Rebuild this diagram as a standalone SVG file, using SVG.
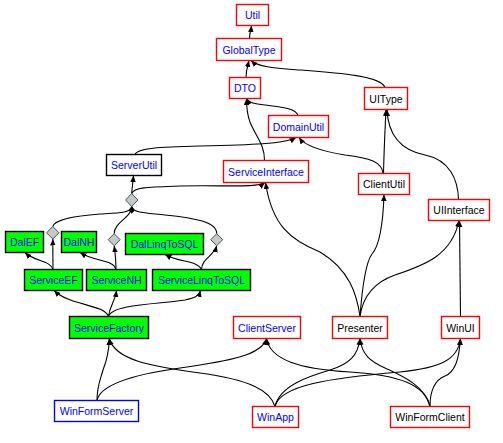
<svg xmlns="http://www.w3.org/2000/svg" width="503" height="443" viewBox="0 0 503 443">
<style>
  .n rect { stroke-width: 1.4; }
  .red rect { fill: #ffffff; stroke: #ff0000; }
  .blk rect { fill: #ffffff; stroke: #000000; }
  .blu rect { fill: #ffffff; stroke: #0000ff; }
  .grn rect { fill: #00ff00; stroke: #000000; }
  text { font-family: "Liberation Sans", Arial, sans-serif; font-size: 10.5px; text-anchor: middle; }
  .tb { fill: #0000ff; }
  .tk { fill: #000000; }
  .dia { fill: #c8c8c8; stroke: #3a5a5a; stroke-width: 1; }
  #edges path { fill: none; stroke: #000000; stroke-width: 1.1; }
  #edges .a { marker-end: url(#arr); }
  #edges .d { marker-end: url(#dmd); }
</style>
<defs>
  <marker id="arr" markerUnits="userSpaceOnUse" markerWidth="8" markerHeight="7" refX="6.5" refY="2.75" orient="auto">
    <path d="M0,0 L6.5,2.75 L0,5.5 z" fill="#000"/>
  </marker>
  <marker id="dmd" markerUnits="userSpaceOnUse" markerWidth="9" markerHeight="7" refX="7" refY="2.75" orient="auto">
    <path d="M0,2.75 L3.5,0 L7,2.75 L3.5,5.5 z" fill="#000"/>
  </marker>
</defs>
<rect width="503" height="443" fill="#ffffff"/>

<g id="edges">
  <path class="a" d="M249.5,38.5 C249.5,33 251,30 251.5,25.5"/>
  <path class="a" d="M246,77.5 C246,70 248,65 249,60.5"/>
  <path class="a" d="M385,87.5 C381,76 340,73 300,70 C275,68 258,67 251,60.5"/>
  <path class="a" d="M298,115.5 C296,108 280,107 265,105 C255,104 249,103 246.5,98.5"/>
  <path class="a" d="M264.5,160.5 C265,145 255,135 250,122 C247,114 246.5,106 246.5,98.5"/>
  <path class="a" d="M135,154.5 C137,148 160,147 200,146 C250,145 285,144 296,137.5"/>
  <path class="a" d="M383,173.5 C382,162 370,158 345,155 C320,151 305,146 299,137.5"/>
  <path class="a" d="M383.5,173.5 C384,150 385,130 386,109.5"/>
  <path class="a" d="M458.5,199.5 C458,180 450,160 425,155 C400,150 388,135 387,109.5"/>
  <path class="a" d="M131.7,193.5 C132,188 133,182 133.5,175.5"/>
  <path class="a" d="M131.7,193.5 C134,187 150,187 180,186 C225,185 258,188 265,182.5"/>
  <path class="d" d="M52.8,226.5 C55,219 75,216 100,214 C118,213 131.7,213 131.7,206.5"/>
  <path class="d" d="M114.2,233.7 C114,222 131.7,218 131.7,206.5"/>
  <path class="d" d="M216.7,233.7 C217,222 195,218 165,215 C148,213 131.7,213 131.7,206.5"/>
  <path class="a" d="M53,269.5 C50,260 35,262 25,252.5"/>
  <path class="a" d="M53,269.5 L52.8,239"/>
  <path class="a" d="M116,269.5 C113,259 95,262 80,252.5"/>
  <path class="a" d="M116,269.5 C116,260 115,252 114.2,245.7"/>
  <path class="a" d="M201.5,269.5 C197,260 180,263 165,254.5"/>
  <path class="a" d="M201.5,269.5 C202,258 214,256 216.7,245.7"/>
  <path class="a" d="M108.5,316.5 C104,304 70,306 54,290.5"/>
  <path class="a" d="M108.5,316.5 C110,305 115,302 116.5,290.5"/>
  <path class="a" d="M108.5,316.5 C112,304 160,304 185,300 C195,298 199,296 200.5,290.5"/>
  <path class="a" d="M360,316.5 C357,295 350,270 320,252 C290,240 272,225 265.5,182.5"/>
  <path class="a" d="M360,316.5 C362,290 366,262 372,254 C380,245 383,225 384,194.5"/>
  <path class="a" d="M360,316.5 C363,295 375,282 395,275 C425,265 452,255 459,220.5"/>
  <path class="a" d="M460.5,316.5 L459.5,220.5"/>
  <path class="a" d="M97,400.5 C97,385 101,378 103,370 C107,360 109,350 109.3,338.5"/>
  <path class="a" d="M97,400.5 C100,385 130,375 180,368 C230,361 262,355 266.5,338.5"/>
  <path class="a" d="M275,406.5 C270,390 250,380 200,373 C150,366 115,360 109.3,338.5"/>
  <path class="a" d="M275,406.5 C280,385 310,376 330,370 C350,364 358,355 360,338.5"/>
  <path class="a" d="M275,406.5 C280,385 330,378 400,372 C440,368 458,360 460.5,338.5"/>
  <path class="a" d="M430,406.5 C425,385 400,375 350,372 C300,369 270,360 266.5,338.5"/>
  <path class="a" d="M430,406.5 C425,385 400,375 385,368 C370,361 362,355 360,338.5"/>
  <path class="a" d="M430,406.5 C430,390 435,380 445,376 C455,372 459,360 460.5,338.5"/>
</g>

<g id="Util" class="n red"><rect x="236.5" y="4.5" width="32" height="21"/><text class="tb" x="252.5" y="19">Util</text></g>
<g id="GlobalType" class="n red"><rect x="216.5" y="38.5" width="65" height="22"/><text class="tb" x="249" y="53.5">GlobalType</text></g>
<g id="DTO" class="n red"><rect x="229.5" y="77.5" width="31" height="21"/><text class="tb" x="245" y="92">DTO</text></g>
<g id="UIType" class="n red"><rect x="364.5" y="87.5" width="43" height="22"/><text class="tk" x="386" y="102.5">UIType</text></g>
<g id="DomainUtil" class="n red"><rect x="268.5" y="115.5" width="60" height="22"/><text class="tb" x="298.5" y="130.5">DomainUtil</text></g>
<g id="ServerUtil" class="n blk"><rect x="106.5" y="154.5" width="55" height="21"/><text class="tb" x="134" y="169">ServerUtil</text></g>
<g id="ServiceInterface" class="n red"><rect x="223.5" y="160.5" width="85" height="22"/><text class="tb" x="266" y="175.5">ServiceInterface</text></g>
<g id="ClientUtil" class="n red"><rect x="358.5" y="173.5" width="51" height="21"/><text class="tk" x="384" y="188">ClientUtil</text></g>
<g id="UIInterface" class="n red"><rect x="428.5" y="199.5" width="61" height="21"/><text class="tk" x="459" y="214">UIInterface</text></g>

<g id="Diamond1"><polygon class="dia" points="131.7,193.5 137.8,200 131.7,206.5 125.6,200"/></g>
<g id="Diamond2"><polygon class="dia" points="52.8,226.5 59,232.8 52.8,239 46.6,232.8"/></g>
<g id="Diamond3"><polygon class="dia" points="114.2,233.7 120.2,239.7 114.2,245.7 108.2,239.7"/></g>
<g id="Diamond4"><polygon class="dia" points="216.7,233.7 222.7,239.7 216.7,245.7 210.7,239.7"/></g>

<g id="DalEF" class="n grn"><rect x="5.5" y="231.5" width="38" height="21"/><text class="tb" x="24.5" y="246">DalEF</text></g>
<g id="DalNH" class="n grn"><rect x="61.5" y="231.5" width="35" height="21"/><text class="tb" x="79" y="246">DalNH</text></g>
<g id="DalLinqToSQL" class="n grn"><rect x="125.5" y="233.5" width="78" height="21"/><text class="tb" x="164.5" y="248">DalLinqToSQL</text></g>
<g id="ServiceEF" class="n grn"><rect x="24.5" y="269.5" width="58" height="21"/><text class="tb" x="53.5" y="284">ServiceEF</text></g>
<g id="ServiceNH" class="n grn"><rect x="86.5" y="269.5" width="60" height="21"/><text class="tb" x="116.5" y="284">ServiceNH</text></g>
<g id="ServiceLinqToSQL" class="n grn"><rect x="152.5" y="269.5" width="98" height="21"/><text class="tb" x="201.5" y="284">ServiceLinqToSQL</text></g>
<g id="ServiceFactory" class="n grn"><rect x="69.5" y="316.5" width="79" height="22"/><text class="tb" x="109" y="331.5">ServiceFactory</text></g>
<g id="ClientServer" class="n red"><rect x="233.5" y="316.5" width="67" height="22"/><text class="tb" x="267" y="331.5">ClientServer</text></g>
<g id="Presenter" class="n red"><rect x="332.5" y="316.5" width="55" height="22"/><text class="tk" x="360" y="331.5">Presenter</text></g>
<g id="WinUI" class="n red"><rect x="441.5" y="316.5" width="38" height="22"/><text class="tk" x="460.5" y="331.5">WinUI</text></g>
<g id="WinFormServer" class="n blu"><rect x="54.5" y="400.5" width="84" height="21"/><text class="tb" x="96.5" y="415">WinFormServer</text></g>
<g id="WinApp" class="n red"><rect x="252.5" y="406.5" width="46" height="21"/><text class="tb" x="275.5" y="421">WinApp</text></g>
<g id="WinFormClient" class="n red"><rect x="390.5" y="406.5" width="79" height="21"/><text class="tk" x="430" y="421">WinFormClient</text></g>
</svg>
